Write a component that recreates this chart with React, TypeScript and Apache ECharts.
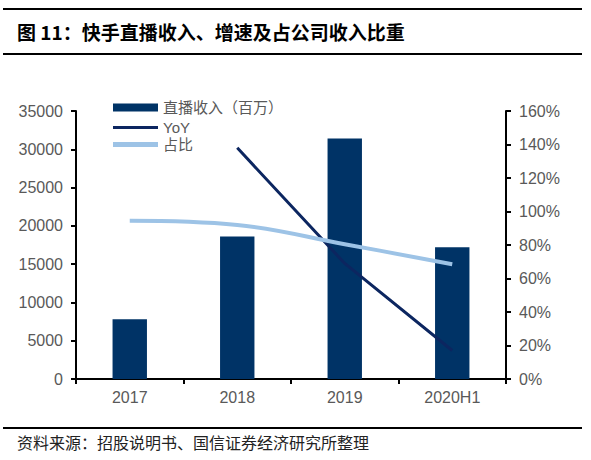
import * as echarts from 'echarts'
import { useEffect, useRef } from 'react'

const categories = ['2017', '2018', '2019', '2020H1']
const liveRevenue = [7800, 18600, 31400, 17200]
const yoy = [null, 138, 69, 17]
const share = [94.5, 92, 80.5, 68.5]

const TITLE = '图 11：快手直播收入、增速及占公司收入比重'
const SOURCE = '资料来源：招股说明书、国信证券经济研究所整理'

const labelColor = '#595959'
const labelFont = 'Liberation Sans, Arial, sans-serif'
const cjkFont = 'Noto Sans CJK SC, sans-serif'

const barColor = '#003366'
const yoyColor = '#0c2660'
const shareColor = '#9dc3e6'

// one legend per series so each icon can have its own shape
const legendBox = (name: string, top: number, h: number, color: string) => ({
	left: 113,
	top,
	padding: 0,
	itemWidth: 45,
	itemHeight: h,
	icon: 'rect',
	textStyle: { color: labelColor, fontSize: 15, fontFamily: 'Liberation Sans, Noto Sans CJK SC, sans-serif' },
	data: [{ name, icon: 'rect', itemStyle: { color } }],
})

const App = () => {
	const chartRef = useRef(null)

	useEffect(() => {
		const myChart = echarts.init(chartRef.current, null, { renderer: 'svg' })

		const option = {
			animation: false,
			backgroundColor: '#fff',
			textStyle: { fontFamily: labelFont },
			graphic: [
				// title rules and text
				{ type: 'line', shape: { x1: 3, y1: 9, x2: 582, y2: 9 }, style: { stroke: '#000', lineWidth: 2 } },
				{ type: 'line', shape: { x1: 3, y1: 54, x2: 582, y2: 54 }, style: { stroke: '#000', lineWidth: 2 } },
				{
					type: 'text',
					left: 17,
					top: 22,
					style: { text: TITLE, fontSize: 19, fontWeight: 'bold', fill: '#000', fontFamily: cjkFont },
				},
				// source line
				{ type: 'line', shape: { x1: 3, y1: 428, x2: 582, y2: 428 }, style: { stroke: '#000', lineWidth: 2 } },
				{
					type: 'text',
					left: 17,
					top: 434,
					style: { text: SOURCE, fontSize: 16, fill: '#222', fontFamily: cjkFont },
				},
			],
			legend: [
				legendBox('直播收入（百万）', 100, 8, barColor),
				legendBox('YoY', 120, 3, yoyColor),
				legendBox('占比', 137, 5, shareColor),
			],
			grid: { left: 76, right: 85, top: 111, bottom: 81 },
			xAxis: {
				type: 'category',
				data: categories,
				axisLine: { lineStyle: { color: '#000', width: 2 } },
				axisTick: { show: true, length: 5, lineStyle: { color: '#000', width: 2 } },
				axisLabel: { color: labelColor, fontSize: 16, margin: 10 },
			},
			yAxis: [
				{
					type: 'value',
					min: 0,
					max: 35000,
					interval: 5000,
					splitLine: { show: false },
					axisLine: { show: true, lineStyle: { color: '#000', width: 2 } },
					axisTick: { show: true, length: 5, lineStyle: { color: '#000', width: 2 } },
					axisLabel: { color: labelColor, fontSize: 16, margin: 13, formatter: (v: number) => String(v) },
				},
				{
					type: 'value',
					min: 0,
					max: 160,
					interval: 20,
					splitLine: { show: false },
					axisLine: { show: true, lineStyle: { color: '#000', width: 2 } },
					axisTick: { show: true, length: 5, lineStyle: { color: '#000', width: 2 } },
					axisLabel: { color: labelColor, fontSize: 16, margin: 13, formatter: '{value}%' },
				},
			],
			series: [
				{
					name: '直播收入（百万）',
					type: 'bar',
					data: liveRevenue,
					barWidth: '32%',
					itemStyle: { color: barColor },
				},
				{
					name: 'YoY',
					type: 'line',
					yAxisIndex: 1,
					data: yoy,
					symbol: 'none',
					lineStyle: { color: yoyColor, width: 3 },
					itemStyle: { color: yoyColor },
				},
				{
					name: '占比',
					type: 'line',
					yAxisIndex: 1,
					data: share,
					smooth: 0.4,
					symbol: 'none',
					lineStyle: { color: shareColor, width: 4 },
					itemStyle: { color: shareColor },
				},
			],
		}

		myChart.setOption(option)

		return () => {
			myChart.dispose()
		}
	}, [])

	return (
		<div
			ref={chartRef}
			style={{ position: 'fixed', left: 0, top: 0, width: '591px', height: '460px' }}
		/>
	)
}

export default App
